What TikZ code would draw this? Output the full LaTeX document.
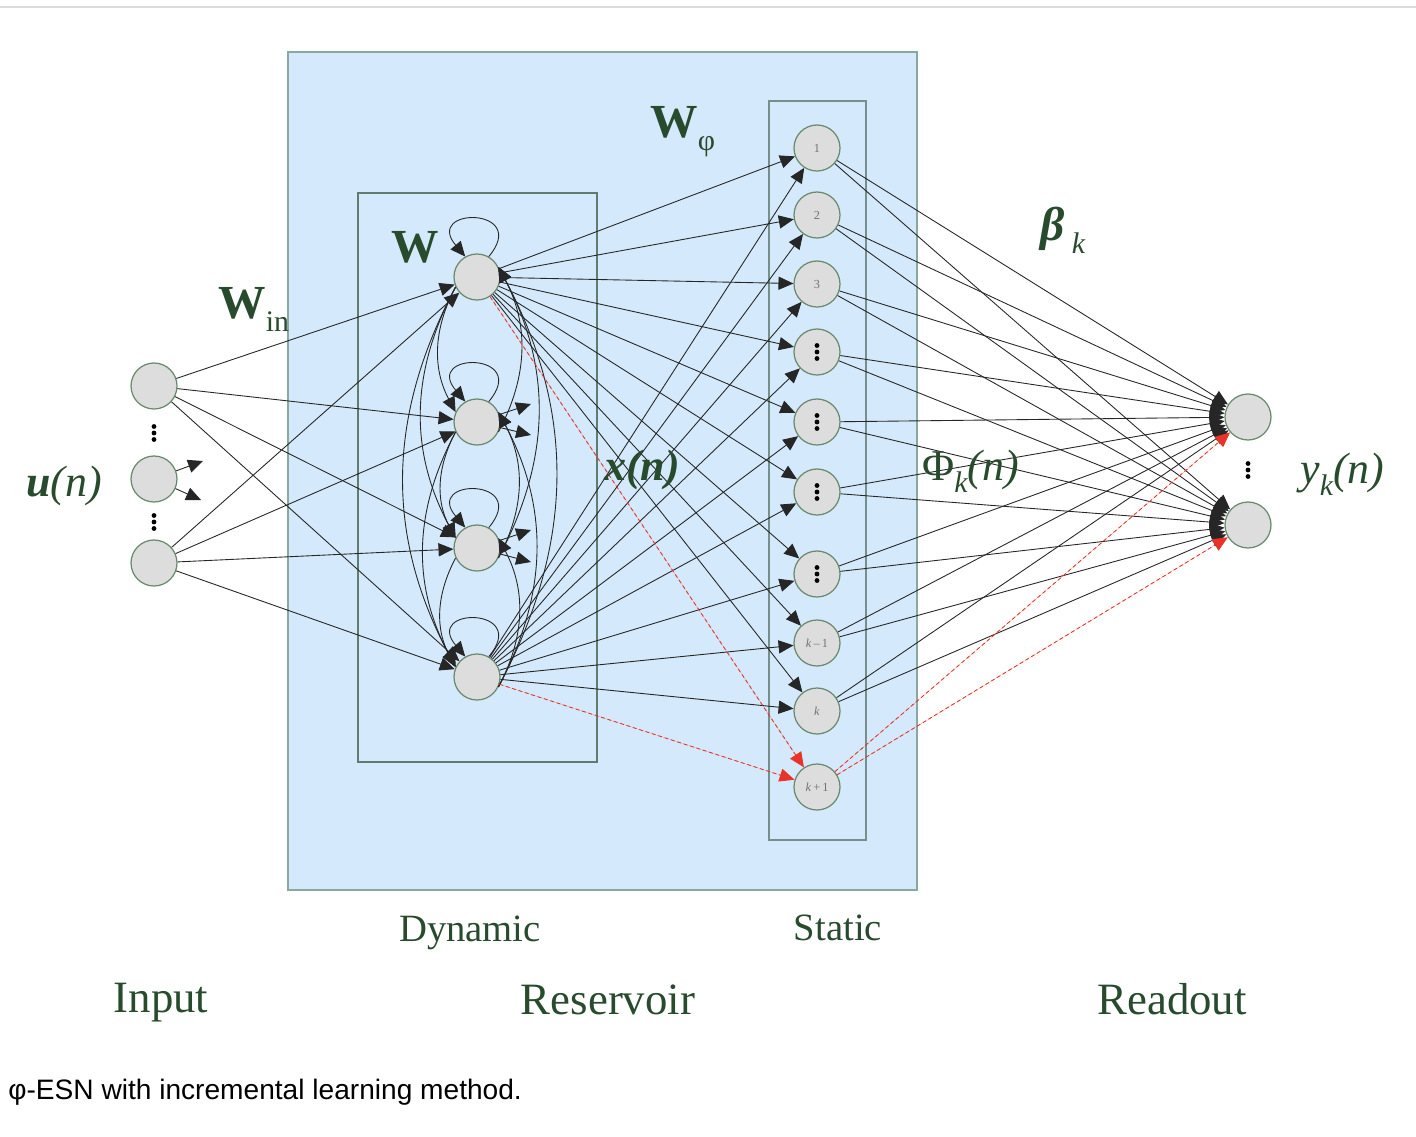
\documentclass[tikz,border=0pt]{standalone}
\usepackage{fontspec}
\setmainfont{Liberation Serif}
\newfontfamily\capfont{Liberation Sans}
\usetikzlibrary{arrows.meta}
\definecolor{boxfill}{RGB}{212,233,251}
\definecolor{boxline}{RGB}{138,168,162}
\definecolor{dynline}{RGB}{95,125,110}
\definecolor{tgreen}{RGB}{40,75,45}
\definecolor{nodef}{RGB}{221,221,221}
\definecolor{nodeb}{RGB}{105,138,108}
\definecolor{redl}{RGB}{232,52,40}
\definecolor{topline}{RGB}{220,220,220}
\newcommand{\fs}[1]{\fontsize{#1}{#1}\selectfont}
\newcommand{\sbs}[2]{\raisebox{-0.28em}{\fs{#1}#2}}
\begin{document}
\begin{tikzpicture}[x=0.02cm,y=0.02cm,
  neuron/.style={circle,draw=nodeb,fill=nodef,line width=0.7pt,minimum size=0.92cm,inner sep=0pt},
  arr/.style={-{Triangle[length=8.5pt,width=7.5pt]},line width=0.5pt,draw=black!85},
  rarr/.style={-{Triangle[length=8.5pt,width=7.5pt]},line width=0.5pt,draw=redl,fill=redl,dash pattern=on 2.2pt off 1.6pt},
  lbl/.style={text=tgreen,inner sep=0pt}]
\useasboundingbox (0,0) rectangle (1416,-1136);
\draw[topline,line width=1.2pt] (0,-7) -- (1416,-7);
% boxes
\draw[boxline,fill=boxfill,line width=1.2pt] (288,-52) rectangle (917,-890);
\draw[dynline,line width=0.8pt] (358,-193) rectangle (597,-762);
\draw[boxline!85!black,line width=1.2pt] (769,-101) rectangle (866,-840);
% input nodes
\node[neuron] (i1) at (154,-386) {};
\node[neuron] (i2) at (154,-479) {};
\node[neuron] (i3) at (154,-563) {};
\foreach \yy in {433,522}{\foreach \dy in {-6.5,0,6.5}{\fill (154,-\yy+\dy) circle (2.4);}}
% dynamic nodes
\node[neuron] (d1) at (477,-277) {};
\node[neuron] (d2) at (477,-422) {};
\node[neuron] (d3) at (477,-548) {};
\node[neuron] (d4) at (477,-677) {};
% static nodes
\node[neuron] (s1) at (817,-148) {\fs{7}\color{black!55}1};
\node[neuron] (s2) at (817,-215) {\fs{7}\color{black!55}2};
\node[neuron] (s3) at (817,-284) {\fs{7}\color{black!55}3};
\node[neuron] (s4) at (817,-352) {};
\node[neuron] (s5) at (817,-422) {};
\node[neuron] (s6) at (817,-492) {};
\node[neuron] (s7) at (817,-574) {};
\node[neuron] (s8) at (817,-643) {\fs{7}\color{black!55}\textit{k}\,–\,1};
\node[neuron] (s9) at (817,-711) {\fs{7}\color{black!55}\textit{k}};
\node[neuron] (s10) at (817,-787) {\fs{7}\color{black!55}\textit{k}\,+\,1};
\foreach \yy in {352,422,492,574}{\foreach \dy in {-6.5,0,6.5}{\fill (817,-\yy+\dy) circle (2.4);}}
% output nodes
\node[neuron] (o1) at (1248,-417) {};
\node[neuron] (o2) at (1248,-525) {};
\foreach \dy in {-6.5,0,6.5}{\fill (1248,-470+\dy) circle (2.4);}
% input -> dynamic
\foreach \a in {i1,i3}{\foreach \b in {d1,d2,d3,d4}{\draw[arr] (\a) -- (\b);}}
\coordinate (st1) at (203,-461);
\coordinate (st2) at (201,-500);
\draw[arr] (i2) -- (st1);
\draw[arr] (i2) -- (st2);
% self loops
\foreach \d in {d1,d2,d3,d4}{\draw[arr] (\d.60) .. controls +(42,50) and +(-42,50) .. (\d.120);}
% recurrent arcs: left side downwards, right side upwards
\foreach \i/\j in {1/2,1/3,1/4,2/3,2/4,3/4}{
  \draw[arr] (d\i.205) to[out=242,in=118] (d\j.155);
  \draw[arr] (d\j.-25) to[out=62,in=-62] (d\i.25);}
\coordinate (st3) at (531,-404);
\coordinate (st4) at (531,-435);
\coordinate (st5) at (531,-530);
\coordinate (st6) at (531,-562);
\draw[arr] (d2) -- (st3);
\draw[arr] (d2) -- (st4);
\draw[arr] (d3) -- (st5);
\draw[arr] (d3) -- (st6);
% dynamic -> static
\foreach \a in {d1,d4}{\foreach \k in {1,...,9}{\draw[arr] (\a) -- (s\k);}}
\draw[rarr] (d1) -- (s10);
\draw[rarr] (d4) -- (s10);
% static -> output
\foreach \k in {1,...,9}{\draw[arr] (s\k) -- (o1); \draw[arr] (s\k) -- (o2);}
\draw[rarr] (s10) -- (o1);
\draw[rarr] (s10) -- (o2);
% labels
\node[lbl,anchor=base west] (lwin) at (218,-318) {\fs{27}\bfseries W\sbs{17}{\mdseries in}};
\node[lbl,anchor=base west] (lw) at (391,-262) {\fs{27}\bfseries W};
\node[lbl,anchor=base west] (lwphi) at (650,-137) {\fs{27}\bfseries W\sbs{17}{\mdseries φ}};
\node[lbl,anchor=base west] (lbeta) at (1040,-240) {\fs{27}\bfseries\itshape β\hspace{0.15em}\sbs{17}{\mdseries k}};
\node[lbl,anchor=base west] (lx) at (604,-480) {\fs{25}\bfseries\itshape x(n)};
\node[lbl,anchor=base west] (lu) at (26,-496) {\fs{25}\textbf{\textit{u}}\textit{(n)}};
\node[lbl,anchor=base west] (lphi) at (922,-480) {\fs{25}Φ\sbs{17}{\itshape k}\textit{(n)}};
\node[lbl,anchor=base west] (ly) at (1300,-483) {\fs{25}\textit{y}\sbs{17}{\itshape k}\textit{(n)}};
\node[lbl,anchor=base] (ldyn) at (470,-941) {\fs{22}Dynamic};
\node[lbl,anchor=base] (lsta) at (838,-940) {\fs{22}Static};
\node[lbl,anchor=base] (linp) at (161,-1012) {\fs{25.5}Input};
\node[lbl,anchor=base] (lres) at (608,-1014) {\fs{25.5}Reservoir};
\node[lbl,anchor=base] (lrea) at (1172,-1014) {\fs{25.5}Readout};
\node[anchor=base west,inner sep=0pt] (cap) at (8,-1099) {\capfont\fs{16}φ-ESN with incremental learning method.};
\end{tikzpicture}
\end{document}
